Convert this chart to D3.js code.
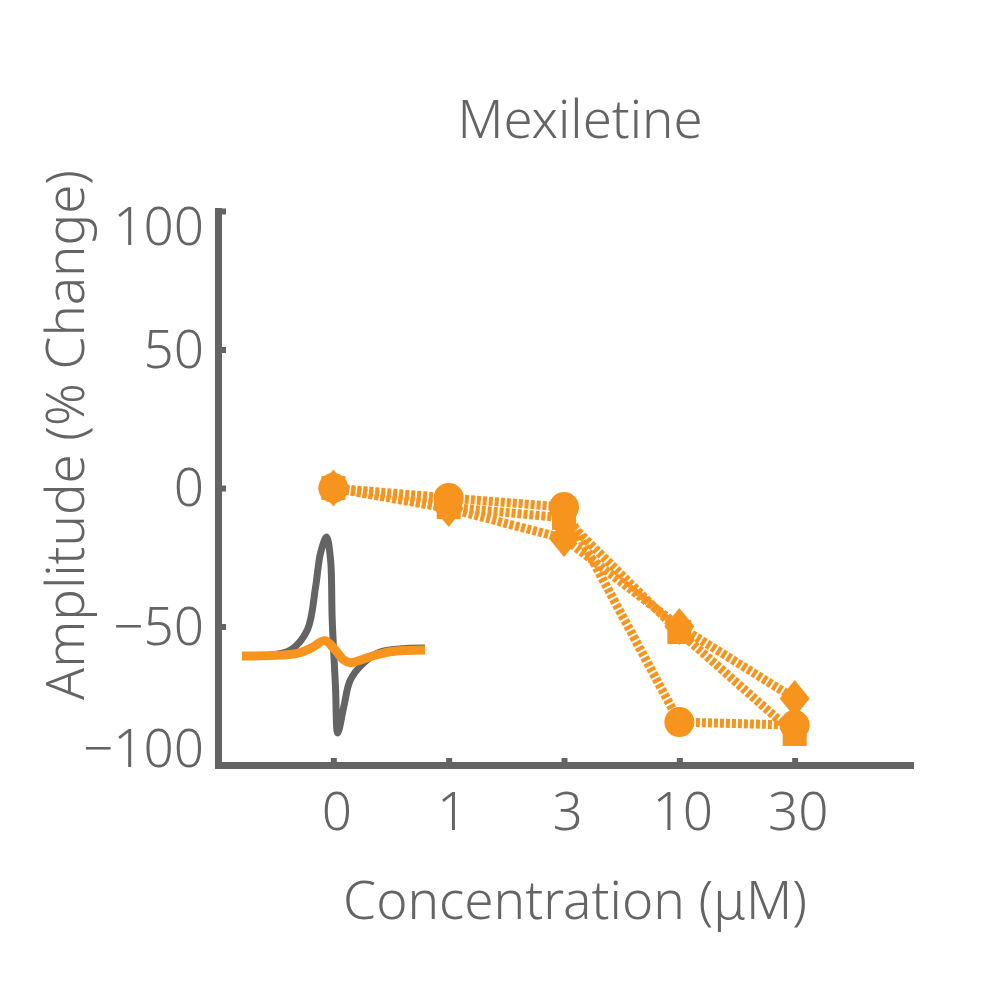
<!DOCTYPE html>
<html>
<head>
<meta charset="utf-8">
<script src="https://cdn.jsdelivr.net/npm/d3@7"></script>
<style>
  html, body { margin: 0; padding: 0; background: #fff; }
  svg { display: block; }
  text { font-family: "Noto Sans", "Open Sans", sans-serif; font-weight: 300; fill: #646464; }
</style>
</head>
<body>
<svg id="chart" width="1000" height="1000"></svg>
<script>
// ---------- data ----------
const concentrations = ["0", "1", "3", "10", "30"];
const circleSeries  = [0, -3.6, -6.9, -84.5, -85.6];
const squareSeries  = [0, -6.9, -10.8, -52, -88.8];
const diamondSeries = [0, -7.4, -18.2, -50, -76];
const yTickValues = [-100, -50, 0, 50, 100];

// inset waveform (time units 0-100, voltage arbitrary units)
const controlTime = [0, 15.8, 26.6, 35.7, 40.2, 42.9, 46.2, 48.4, 49.3, 51.1, 52.3, 55.6, 59.2, 66.5, 75.5, 100];
const controlVolt = [-0.5, 0.8, 5, 21.7, 57.5, 85.8, 99.2, 80, 30, -25.8, -64.2, -42.5, -20, -5.8, 3.3, 6.7];
const drugTime = [0, 30.3, 37.5, 45.3, 50.2, 55.6, 59.2, 70.1, 81, 100];
const drugVolt = [0, 2.2, 6.4, 12.8, 6.4, -3.3, -5.6, -0.6, 3.6, 5];

const titleText = "Mexiletine";
const xLabelText = "Concentration (\u03bcM)";
const yLabelText = "Amplitude (% Change)";

// ---------- styles ----------
const GRAY = "#646464";
const ORANGE = "#F7941E";

const svg = d3.select("#chart");

const x = d3.scalePoint().domain(concentrations).range([218, 910]).padding(1);
const y = d3.scaleLinear().domain([-100, 100]).range([765, 211]);

// inset scales
const xi = d3.scaleLinear().domain([0, 100]).range([242, 425]);
const yi = d3.scaleLinear().domain([-70, 100]).range([740, 536]);

// ---------- inset ----------
const insetLine = d3.line()
  .x(d => xi(d[0])).y(d => yi(d[1]))
  .curve(d3.curveCatmullRom.alpha(0.5));
svg.append("path")
  .datum(d3.zip(controlTime, controlVolt))
  .attr("d", insetLine)
  .attr("fill", "none").attr("stroke", GRAY).attr("stroke-width", 7)
  .attr("stroke-linejoin", "round");
svg.append("path")
  .datum(d3.zip(drugTime, drugVolt))
  .attr("d", insetLine)
  .attr("fill", "none").attr("stroke", ORANGE).attr("stroke-width", 9)
  .attr("stroke-linejoin", "round");

// ---------- axes ----------
const yAxis = d3.axisLeft(y).tickValues(yTickValues).tickSizeInner(-8).tickSizeOuter(0).tickPadding(14);
const gy = svg.append("g").attr("transform", "translate(218,0)").call(yAxis);
const xAxis = d3.axisBottom(x).tickSizeInner(-7).tickSizeOuter(0).tickPadding(27);
const gx = svg.append("g").attr("transform", "translate(0,765)").call(xAxis);

[gx, gy].forEach(g => {
  g.select(".domain").attr("stroke", GRAY).attr("stroke-width", 7).attr("stroke-linecap", "square");
  g.selectAll(".tick line").attr("stroke", GRAY).attr("stroke-width", 6);
  g.selectAll(".tick text").attr("font-size", 53).attr("fill", GRAY)
    .attr("font-family", "'Noto Sans', sans-serif").attr("font-weight", 300);
});
gx.selectAll(".tick text").attr("dx", 3);
gy.selectAll(".tick text").attr("dy", d => d === 100 ? "0.63em" : (d === -100 ? "0.03em" : "0.33em"));

// ---------- series ----------
const series = [
  { name: "diamond", values: diamondSeries },
  { name: "square",  values: squareSeries },
  { name: "circle",  values: circleSeries }
];

const line = d3.line().x((d, i) => x(concentrations[i])).y(d => y(d));
svg.append("g").selectAll("path").data(series).join("path")
  .attr("d", s => line(s.values))
  .attr("fill", "none").attr("stroke", ORANGE).attr("stroke-width", 9)
  .attr("stroke-dasharray", "4 2");

function diamondPath(cx, cy) {
  const hw = 15, hh = 18.5;
  return `M${cx},${cy - hh}L${cx + hw},${cy}L${cx},${cy + hh}L${cx - hw},${cy}Z`;
}
const squareSym = d3.symbol().type(d3.symbolSquare).size(24 * 24);

series.forEach(s => {
  const g = svg.append("g");
  s.values.forEach((v, i) => {
    const cx = x(concentrations[i]), cy = y(v);
    if (s.name === "circle") {
      g.append("circle").attr("cx", cx).attr("cy", cy).attr("r", 15).attr("fill", ORANGE);
    } else if (s.name === "square") {
      g.append("path").attr("d", squareSym()).attr("transform", `translate(${cx},${cy})`).attr("fill", ORANGE);
    } else {
      g.append("path").attr("d", diamondPath(cx, cy)).attr("fill", ORANGE);
    }
  });
});

// ---------- titles ----------
function fit(sel, target) {
  const w = sel.node().getComputedTextLength();
  const fs = parseFloat(sel.attr("font-size"));
  sel.attr("font-size", fs * target / w);
}
const title = svg.append("text").attr("x", 580).attr("y", 138)
  .attr("text-anchor", "middle").attr("font-size", 48).text(titleText);
fit(title, 245);
const xl = svg.append("text").attr("x", 575).attr("y", 919)
  .attr("text-anchor", "middle").attr("font-size", 50).text(xLabelText);
fit(xl, 464);
const yl = svg.append("text").attr("transform", "translate(84,435) rotate(-90)")
  .attr("text-anchor", "middle").attr("font-size", 50).text(yLabelText);
fit(yl, 530);
</script>
</body>
</html>
